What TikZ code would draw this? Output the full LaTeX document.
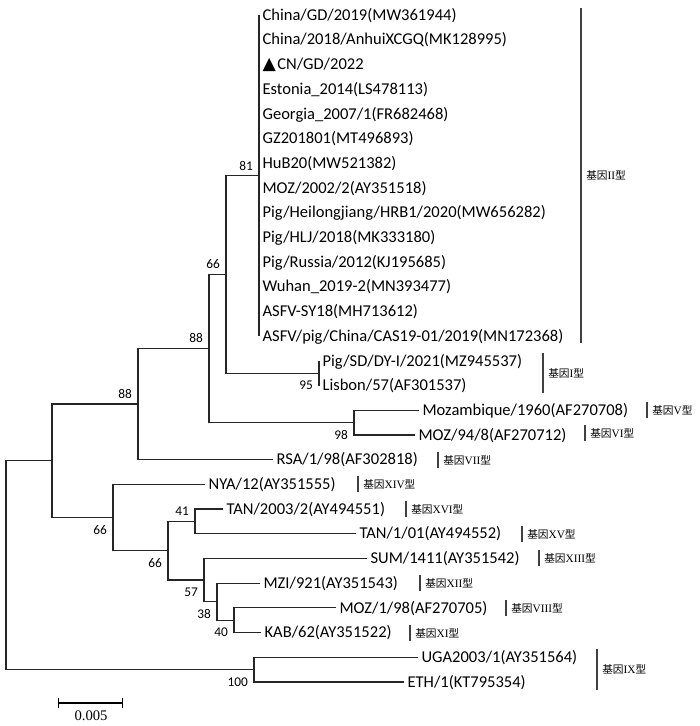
\documentclass[tikz,border=0pt]{standalone}
\usepackage{fontspec}
\setmainfont{Carlito}
\newfontfamily\cjkfont{Noto Sans CJK SC}
\newfontfamily\trifont{DejaVu Sans}
\newfontfamily\barfont{Liberation Serif}
\newcommand{\rn}[1]{{\barfont\fontsize{8.5}{10}\selectfont #1}}
\usetikzlibrary{arrows.meta}
\tikzset{
  branch/.style={line width=0.9pt, black!85},
  leaf/.style={anchor=west, inner xsep=2.5pt, inner ysep=0pt, text height=7.9pt, text depth=0pt, font=\fontsize{12.4}{14}\selectfont},
  boot/.style={anchor=east, inner sep=0pt, font=\fontsize{10}{12}\selectfont, xshift=-4.3pt},
  bsa/.style={boot, yshift=7.5pt},
  bsb/.style={boot, yshift=-9.4pt},
  gbar/.style={line width=0.8pt, black!75},
  glab/.style={anchor=west, inner sep=0pt, font=\cjkfont\fontsize{8}{10}\selectfont},
}
\begin{document}
\begin{tikzpicture}[x=0.75pt, y=-0.75pt]
  \useasboundingbox (0,0) rectangle (700,726);
  % leaves: row / branch tip / name
  \foreach \k/\tip/\txt in {0/259/{China/GD/2019(MW361944)}, 1/259/{China/2018/AnhuiXCGQ(MK128995)},
    2/259/{{\trifont\fontsize{13}{13}\selectfont ▲}\hspace{1pt}CN/GD/2022}, 3/259/{Estonia\_2014(LS478113)},
    4/259/{Georgia\_2007/1(FR682468)}, 5/259/{GZ201801(MT496893)}, 6/259/{HuB20(MW521382)},
    7/259/{MOZ/2002/2(AY351518)}, 8/259/{Pig/Heilongjiang/HRB1/2020(MW656282)}, 9/259/{Pig/HLJ/2018(MK333180)},
    10/259/{Pig/Russia/2012(KJ195685)}, 11/259/{Wuhan\_2019-2(MN393477)}, 12/259/{ASFV-SY18(MH713612)},
    13/259/{ASFV/pig/China/CAS19-01/2019(MN172368)}, 14/319/{Pig/SD/DY-I/2021(MZ945537)}, 15/319/{Lisbon/57(AF301537)},
    16/419/{Mozambique/1960(AF270708)}, 17/415/{MOZ/94/8(AF270712)}, 18/273/{RSA/1/98(AF302818)},
    19/205/{NYA/12(AY351555)}, 20/223/{TAN/2003/2(AY494551)}, 21/356/{TAN/1/01(AY494552)},
    22/367/{SUM/1411(AY351542)}, 23/260/{MZI/921(AY351543)}, 24/336/{MOZ/1/98(AF270705)},
    25/261/{KAB/62(AY351522)}, 26/418/{UGA2003/1(AY351564)}, 27/404/{ETH/1(KT795354)}}
  {
    \node[leaf] (l\k) at (\tip,{15+24.7*\k}) {\txt};
  }
  % inner nodes with bootstrap values
  \foreach \n/\x/\y/\b/\pos in {81/259/175.55/81/bsa, 95/319/373.15/95/bsb, 66a/226/274.35/66/bsa,
    98/354/422.55/98/bsb, 88a/209/348.45/88/bsa, 88b/138/404/88/bsa, 66b/113/517.5/66/bsb,
    66c/168/550.7/66/bsb, 41/195/521.35/41/bsa, 57/204/580/57/bsb, 38/217/601.6/38/bsb,
    40/234/620.15/40/bsb, 100/254/669.55/100/bsb}
  {
    \coordinate (n\n) at (\x,\y);
    \node[\pos] (b\n) at (n\n) {\b};
  }
  \coordinate (nE) at (52,460.75);
  \coordinate (root) at (6,565);
  % branches
  \foreach \k in {0,...,13}
    \draw[branch] (n81) |- (l\k.west);
  \foreach \p/\c in {95/l14, 95/l15, 98/l16, 98/l17, 88b/l18, 66b/l19, 41/l20, 41/l21,
    57/l22, 38/l23, 40/l24, 40/l25, 100/l26, 100/l27}
    \draw[branch] (n\p) |- (\c.west);
  \foreach \p/\c in {66a/n81, 66a/n95, 88a/n66a, 88a/n98, 88b/n88a, E/n88b, E/n66b,
    66b/n66c, 66c/n41, 66c/n57, 57/n38, 38/n40}
    \draw[branch] (n\p) |- (\c);
  \draw[branch] (root) |- (nE);
  \draw[branch] (root) |- (n100);
  % genotype bars
  \foreach \x/\ya/\yb/\txt [count=\i] in {581/8/343/基因\rn{II}型, 543/353/393/基因\rn{I}型, 647/402/418/基因\rn{V}型,
    585/425/441/基因\rn{VI}型, 438/452/468/基因\rn{VII}型, 358/476/492/基因\rn{XIV}型, 406/501/517/基因\rn{XVI}型,
    522/526/542/基因\rn{XV}型, 539/550/566/基因\rn{XIII}型, 420/575/591/基因\rn{XII}型, 506/600/616/基因\rn{VIII}型,
    410/625/641/基因\rn{XI}型, 597/649/690/基因\rn{IX}型}
  {
    \draw[gbar] (\x,\ya) coordinate (g\i a) -- (\x,\yb) coordinate (g\i b);
    \node[glab] (g\i) at (\x+5,{(\ya+\yb)/2}) {\txt};
  }
  % scale bar
  \coordinate (sbl) at (58,703);
  \coordinate (sbr) at (123,703);
  \draw[line width=0.9pt, {Bar[width=7pt]}-{Bar[width=7pt]}] (sbl) -- (sbr);
  \node[font=\barfont\fontsize{11}{12}\selectfont] (sblab) at (91,716) {0.005};
\end{tikzpicture}
\end{document}
